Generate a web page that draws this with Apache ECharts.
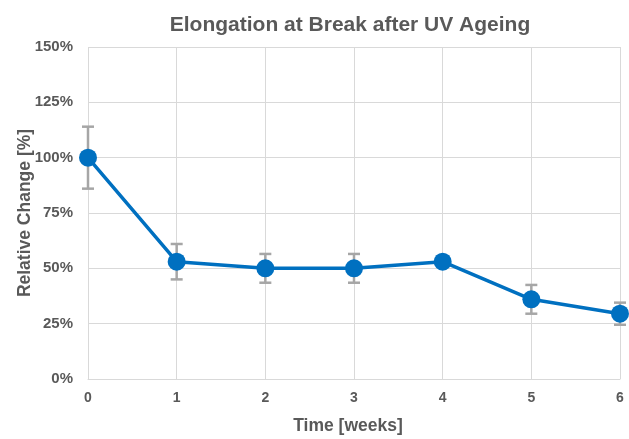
<!DOCTYPE html>
<html><head><meta charset="utf-8">
<script src="https://cdn.jsdelivr.net/npm/echarts@6/dist/echarts.min.js"></script>
<style>html,body{margin:0;padding:0;background:#fff}#c{width:629px;height:439px}</style>
</head><body><div id="c"></div>
<script>
const weeks = [0, 1, 2, 3, 4, 5, 6];
const relChange = [100, 53, 50, 50, 53, 36, 29.5];
const errPlus = [14, 8, 6.5, 6.5, 2, 6.5, 5];
const errMinus = [14, 8, 6.5, 6.5, 2, 6.5, 5];
const yTicks = ['0%', '25%', '50%', '75%', '100%', '125%', '150%'];

const chart = echarts.init(document.getElementById('c'));
const txt = '#595959';
const font = 'Liberation Sans, Arial, sans-serif';
const errData = weeks.map((w, i) => [w, relChange[i] - errMinus[i], relChange[i] + errPlus[i]]);
chart.setOption({
  animation: false,
  title: { text: 'Elongation at Break after UV Ageing', left: 345, textAlign: 'center', top: 10,
    textStyle: { color: txt, fontSize: 21, fontWeight: 'bold', fontFamily: font } },
  grid: { left: 88, right: 9, top: 47, bottom: 60, outerBoundsMode: 'none', containLabel: false },
  xAxis: { type: 'value', min: 0, max: 6, interval: 1,
    name: 'Time [weeks]', nameLocation: 'middle', nameGap: 38, nameMoveOverlap: false,
    nameTextStyle: { color: txt, fontSize: 17.5, fontWeight: 'bold', fontFamily: font, padding: [0, 12, 0, 0] },
    axisLine: { show: true, lineStyle: { color: '#d9d9d9', width: 1 } },
    axisTick: { show: false },
    axisLabel: { color: txt, fontSize: 14, fontWeight: 'bold', fontFamily: font, margin: 12 },
    splitLine: { show: true, lineStyle: { color: '#d9d9d9', width: 1 } } },
  yAxis: { type: 'value', min: 0, max: 150, interval: 25,
    name: 'Relative Change [%]', nameLocation: 'middle', nameGap: 54, nameRotate: 90, nameMoveOverlap: false,
    nameTextStyle: { color: txt, fontSize: 17.5, fontWeight: 'bold', fontFamily: font },
    axisLine: { show: false }, axisTick: { show: false },
    axisLabel: { color: txt, fontSize: 15, fontWeight: 'bold', fontFamily: font, margin: 15,
      formatter: (v) => yTicks[Math.round(v / 25)] },
    splitLine: { show: true, lineStyle: { color: '#d9d9d9', width: 1 } } },
  series: [
    { type: 'custom', z: 1, data: errData,
      renderItem: function (params, api) {
        const x = api.value(0);
        const lo = api.coord([x, api.value(1)]);
        const hi = api.coord([x, api.value(2)]);
        const hw = 6;
        const st = { stroke: '#a6a6a6', lineWidth: 2.5, fill: null };
        return { type: 'group', children: [
          { type: 'line', shape: { x1: lo[0], y1: lo[1], x2: hi[0], y2: hi[1] }, style: st },
          { type: 'line', shape: { x1: lo[0] - hw, y1: lo[1], x2: lo[0] + hw, y2: lo[1] }, style: st },
          { type: 'line', shape: { x1: hi[0] - hw, y1: hi[1], x2: hi[0] + hw, y2: hi[1] }, style: st }
        ] };
      } },
    { type: 'line', z: 3, data: weeks.map((w, i) => [w, relChange[i]]),
      symbol: 'circle', symbolSize: 18,
      lineStyle: { color: '#0070C0', width: 3.5 },
      itemStyle: { color: '#0070C0' } }
  ]
});
</script></body></html>
